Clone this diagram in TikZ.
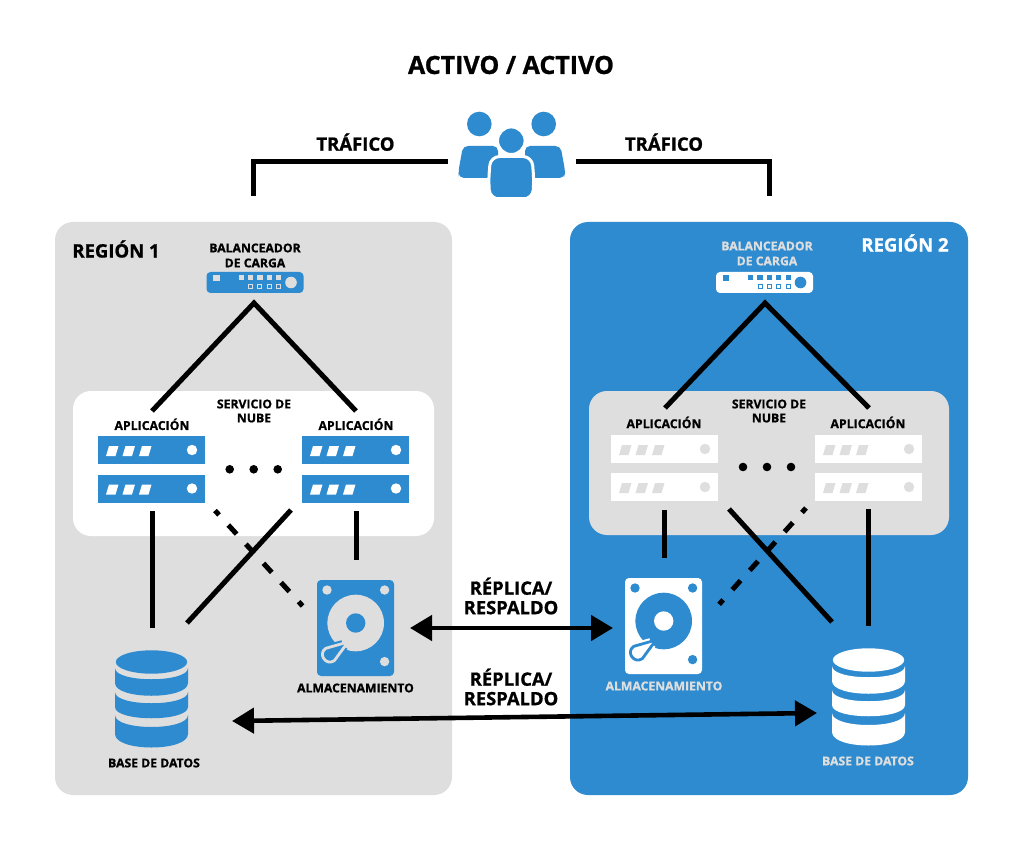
\documentclass[tikz,border=0pt]{standalone}
\usepackage{fontspec}
\setmainfont{Open Sans}[BoldFeatures={FakeBold=0.9}]
\usetikzlibrary{arrows.meta}
\definecolor{azul}{HTML}{2E8BD0}
\definecolor{gris}{HTML}{DEDEDE}
\newcommand{\fs}[1]{\fontsize{#1}{#1}\selectfont\bfseries}
\newcommand{\servidor}[4]{% x,y,fill,detail
 \begin{scope}[shift={(#1,#2)}]
  \fill[#3] (0,0) rectangle (107,28);
  \fill[#4] (8,20) -- (11,10) -- (20.5,10) -- (17.5,20) -- cycle;
  \fill[#4] (24.5,20) -- (27.5,10) -- (37,10) -- (34,20) -- cycle;
  \fill[#4] (41,20) -- (44,10) -- (53.5,10) -- (50.5,20) -- cycle;
  \fill[#4] (94,14) circle [radius=5.2];
 \end{scope}}
\newcommand{\balanceador}[4]{% x,y,fill,detail
 \begin{scope}[shift={(#1,#2)}]
  \fill[#3,rounded corners=4pt] (0,0) rectangle (97,21);
  \fill[#4] (6.5,3) rectangle (13,9.5);
  \foreach \i in {0,1,2,3,4} \fill[#4] (32+9.4*\i,3) rectangle (37.2+9.4*\i,8);
  \foreach \i in {1,2,3,4} \draw[#4,line width=1pt] (32.6+9.4*\i,12.5) rectangle (36.6+9.4*\i,16.5);
  \fill[#4] (84.5,10.5) circle [radius=5.8];
 \end{scope}}
\newcommand{\disco}[4]{% x,y,fill,detail
 \begin{scope}[shift={(#1,#2)}]
  \fill[#3,rounded corners=4pt] (0,0) rectangle (77,96);
  \fill[#4] (10,10) circle [radius=4.7];
  \fill[#4] (67.6,10) circle [radius=4.7];
  \fill[#4] (67.6,81.6) circle [radius=4.7];
  \fill[#4] (38.7,43) circle [radius=28.3];
  \fill[#3] (38.7,43) circle [radius=9.7];
  \draw[#3,line width=7pt] (27.6,66.7) -- (17.3,80.65) .. controls (9.1,86.35) and (0.5,74.05) .. (8.7,68.35) -- (25.4,63.6);
  \draw[#4,fill=#3,line width=2.8pt,line join=round] (31,62) -- (17.3,80.65) .. controls (9.1,86.35) and (0.5,74.05) .. (8.7,68.35) -- cycle;
 \end{scope}}
\newcommand{\basedatos}[3]{% x,y,fill
 \begin{scope}[shift={(#1,#2)}]
  \fill[#3] (36.5,12) ellipse [x radius=35.7pt,y radius=11.7pt];
  \fill[#3] (0,18) .. controls (0,33) and (73,33) .. (73,18) -- (73,33) .. controls (73,50) and (0,50) .. (0,33) -- cycle;
  \fill[#3] (0,42) .. controls (0,57) and (73,57) .. (73,42) -- (73,57) .. controls (73,72) and (0,72) .. (0,57) -- cycle;
  \fill[#3] (0,65) .. controls (0,81) and (73,81) .. (73,65) -- (73,84) .. controls (73,102) and (0,102) .. (0,84) -- cycle;
 \end{scope}}
\tikzset{
  x=1pt,y=-1pt,
  linea/.style={line width=5pt,black},
  punteada/.style={line width=5pt,black,dash pattern=on 6pt off 13.7pt on 12.3pt off 13.7pt on 12.3pt off 13.7pt on 12.3pt off 13.7pt on 12.3pt off 13.7pt on 6pt off 20pt},
  flecha/.style={line width=4.6pt,black,{Triangle[length=22pt,width=25pt]}-{Triangle[length=22pt,width=25pt]}},
  texto/.style={inner sep=0pt,align=center,text=black},
  blanco/.style={inner sep=0pt,align=center,text=gris},
}
\begin{document}
\begin{tikzpicture}
\useasboundingbox (0,0) rectangle (1020,850);
\fill[white] (0,0) rectangle (1020,850);
% regiones
\fill[gris,rounded corners=18pt] (55,222) rectangle (452,795);
\fill[azul,rounded corners=18pt] (570,222) rectangle (968,795);
\fill[white,rounded corners=18pt] (73,391) rectangle (434,536);
\fill[gris,rounded corners=18pt] (589,391) rectangle (949,535);
% textos
\node[texto] (titulo) at (511,65) {\fs{25}ACTIVO / ACTIVO};
\node[texto] (tl) at (355.5,142.2) {\fs{18.5}TRÁFICO};
\node[texto] (tr) at (664,142.2) {\fs{18.5}TRÁFICO};
\node[texto] (reg1) at (116,249) {\fs{18.5}REGIÓN 1};
\node[blanco,text=white] (reg2) at (905,243) {\fs{18.5}REGIÓN 2};
\node[texto] (bl1) at (255,255.5) {\fs{12.2}BALANCEADOR\\[3pt]\fs{12.2}DE CARGA};
\node[blanco] (bl2) at (767,253.5) {\fs{12.2}BALANCEADOR\\[3pt]\fs{12.2}DE CARGA};
\node[texto] (ap1) at (152,424.3) {\fs{12.3}APLICACIÓN};
\node[texto] (ap2) at (356,424.3) {\fs{12.3}APLICACIÓN};
\node[texto] (ap3) at (664,422.5) {\fs{12.3}APLICACIÓN};
\node[texto] (ap4) at (868,422.5) {\fs{12.3}APLICACIÓN};
\node[texto] (sn1) at (254,411) {\fs{12.2}SERVICIO DE\\[2pt]\fs{12.2}NUBE};
\node[texto] (sn2) at (769,411) {\fs{12.2}SERVICIO DE\\[2pt]\fs{12.2}NUBE};
\node[texto] (al1) at (355.5,688) {\fs{12.2}ALMACENAMIENTO};
\node[blanco] (al2) at (664,686) {\fs{12.2}ALMACENAMIENTO};
\node[texto] (bd1) at (154,763) {\fs{12.2}BASE DE DATOS};
\node[blanco] (bd2) at (868,761) {\fs{12.2}BASE DE DATOS};
\node[texto] (rep1) at (511,596) {\fs{18.4}RÉPLICA/\\[5pt]\fs{18.4}RESPALDO};
\node[texto] (rep2) at (511,687) {\fs{18.4}RÉPLICA/\\[5pt]\fs{18.4}RESPALDO};
% iconos
\balanceador{206.5}{272}{azul}{gris}
\balanceador{716}{272}{white}{azul}
\servidor{98}{436}{azul}{white}
\servidor{98}{474.5}{azul}{white}
\servidor{302}{436}{azul}{white}
\servidor{302}{474.5}{azul}{white}
\servidor{611}{435}{white}{gris}
\servidor{611}{473}{white}{gris}
\servidor{815}{435}{white}{gris}
\servidor{815}{473}{white}{gris}
\disco{317}{580}{azul}{gris}
\disco{625}{578}{white}{azul}
\basedatos{115}{650}{azul}
\basedatos{832}{648}{white}
% puntos
\foreach \x in {229.7,253.7,277.7} \fill[black] (\x,469.3) circle [radius=4.3];
\foreach \x in {743,767,791} \fill[black] (\x,467) circle [radius=4.3];
% usuarios
\fill[azul] (479.3,124) circle [radius=12.3];
\fill[azul] (543.7,124) circle [radius=12.3];
\fill[azul,rounded corners=5pt] (463,146) -- (458.3,172) -- (459,178) -- (498,178) -- (498,146) -- cycle;
\fill[azul,rounded corners=5pt] (560.5,146) -- (565.3,172) -- (564.5,178) -- (525,178) -- (525,146) -- cycle;
\fill[azul,draw=white,line width=3pt] (511.3,140.7) circle [radius=13.8];
\draw[white,line width=3pt,fill=azul,rounded corners=9pt] (490,199) -- (488.5,182) -- (490.5,156.5) -- (532,156.5) -- (534,182) -- (532.5,199) -- cycle;
\fill[white] (486,197.5) rectangle (537,201);
% conectores
\coordinate (t1) at (253,196); \coordinate (t1b) at (253,162); \coordinate (t1c) at (448,162);
\coordinate (t2) at (769,196); \coordinate (t2b) at (769,162); \coordinate (t2c) at (576,162);
\draw[linea] (t1) -- (t1b) -- (t1c);
\draw[linea] (t2) -- (t2b) -- (t2c);
\coordinate (p1) at (254,303); \coordinate (a1) at (152,411); \coordinate (a2) at (356,411);
\coordinate (p2) at (765,303); \coordinate (a3) at (665,408); \coordinate (a4) at (869,408);
\draw[linea] (a1) -- (p1) -- (a2);
\draw[linea] (a3) -- (p2) -- (a4);
\coordinate (s1) at (152,511); \coordinate (d1) at (152,628);
\coordinate (s2) at (215,510.5); \coordinate (d2) at (302.6,606);
\coordinate (s3) at (291,510); \coordinate (d3) at (187,623);
\coordinate (s4) at (356,511); \coordinate (d4) at (356,560);
\draw[linea] (s1) -- (d1);
\draw[punteada] (s2) -- (d2);
\draw[linea] (s3) -- (d3);
\draw[linea] (s4) -- (d4);
\coordinate (s5) at (664,510); \coordinate (d5) at (664,558);
\coordinate (s6) at (806,508); \coordinate (d6) at (718.5,605);
\coordinate (s7) at (729,509); \coordinate (d7) at (832,622);
\coordinate (s8) at (868,509); \coordinate (d8) at (868,626);
\draw[linea] (s5) -- (d5);
\draw[punteada] (s6) -- (d6);
\draw[linea] (s7) -- (d7);
\draw[linea] (s8) -- (d8);
\coordinate (f1) at (410,628); \coordinate (f2) at (613,628);
\coordinate (f3) at (232,721); \coordinate (f4) at (817,713);
\draw[flecha] (f1) -- (f2);
\draw[flecha] (f3) -- (f4);
\end{tikzpicture}
\end{document}
